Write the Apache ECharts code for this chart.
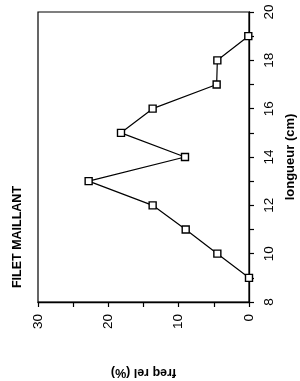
<!DOCTYPE html>
<html>
<head>
<meta charset="utf-8">
<script src="https://cdn.jsdelivr.net/npm/echarts@6/dist/echarts.min.js"></script>
<style>
html,body{margin:0;padding:0;background:#fff;}
#c{width:300px;height:381px;}
</style>
</head>
<body>
<div id="c"></div>
<script>
var lengths = [9, 10, 11, 12, 13, 14, 15, 16, 17, 18, 19];
var freqRel = [0, 4.5, 9.0, 13.7, 22.8, 9.1, 18.2, 13.7, 4.6, 4.5, 0.1];
var titleText = 'FILET MAILLANT';
var xName = 'longueur (cm)';
var yName = 'freq rel (%)';

var pts = lengths.map(function (l, i) { return [freqRel[i], l]; });
var font = '"Liberation Sans", Arial, sans-serif';

var chart = echarts.init(document.getElementById('c'), null, {renderer: 'canvas'});
chart.setOption({
  animation: false,
  backgroundColor: '#fff',
  grid: {left: 38, right: 51, top: 12, bottom: 79, show: true, borderColor: '#000', borderWidth: 1.2,
         containLabel: false, outerBoundsMode: 'none'},
  graphic: [{
    type: 'text', x: 18, y: 237, rotation: Math.PI / 2,
    style: {text: titleText, fill: '#000', font: 'bold 12.5px ' + font, textAlign: 'center', textVerticalAlign: 'middle'}
  }],
  xAxis: {
    type: 'value', min: 0, max: 30, interval: 10, inverse: true, position: 'bottom',
    name: yName, nameLocation: 'middle', nameRotate: 180, nameGap: 64,
    nameTextStyle: {color: '#000', fontFamily: font, fontWeight: 'bold', fontSize: 12.5},
    axisLine: {show: true, lineStyle: {color: '#000', width: 1.3}},
    axisTick: {show: true, inside: false, length: 5, lineStyle: {color: '#000', width: 1.2}},
    minorTick: {show: true, splitNumber: 2, length: 5, lineStyle: {color: '#000', width: 1.2}},
    splitLine: {show: false},
    axisLabel: {rotate: 90, color: '#000', fontFamily: font, fontSize: 13.5, margin: 12}
  },
  yAxis: {
    type: 'value', min: 8, max: 20, interval: 2, position: 'right',
    name: xName, nameLocation: 'middle', nameRotate: 90, nameGap: 26,
    nameTextStyle: {color: '#000', fontFamily: font, fontWeight: 'bold', fontSize: 13},
    axisLine: {show: true, lineStyle: {color: '#000', width: 1.3}},
    axisTick: {show: true, inside: false, length: 5, lineStyle: {color: '#000', width: 1.2}},
    minorTick: {show: true, splitNumber: 2, length: 5, lineStyle: {color: '#000', width: 1.2}},
    splitLine: {show: false},
    axisLabel: {rotate: 90, color: '#000', fontFamily: font, fontSize: 13.5, margin: 13}
  },
  series: [{
    type: 'line', data: pts, symbol: 'rect', symbolSize: 7, showAllSymbol: true,
    lineStyle: {color: '#000', width: 1.2},
    itemStyle: {color: '#fff', borderColor: '#000', borderWidth: 1.4},
    z: 3
  }]
});
</script>
</body>
</html>
